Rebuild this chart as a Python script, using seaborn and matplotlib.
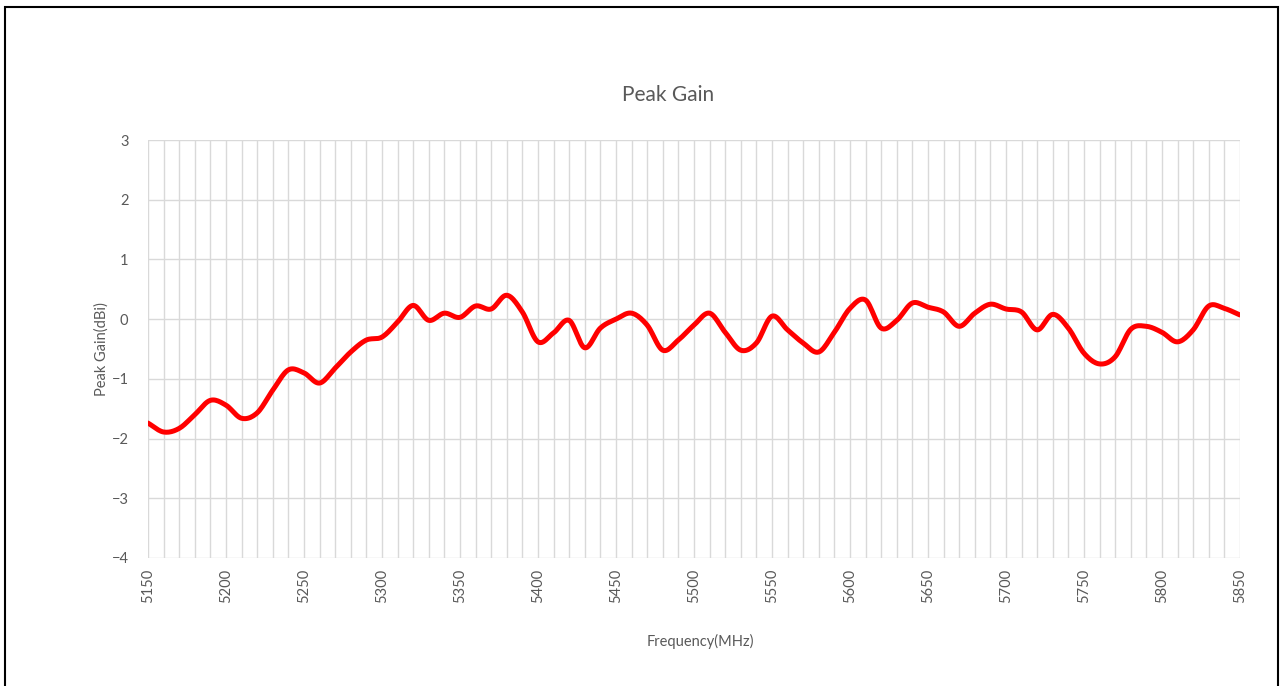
import numpy as np
import pandas as pd
import matplotlib
matplotlib.use("Agg")
import matplotlib.pyplot as plt
from matplotlib.patches import Rectangle
import seaborn as sns

# -------------------------------
# Data
# -------------------------------
freq_mhz = list(range(5150, 5851, 10))
peak_gain_dbi = [
    -1.74, -1.89, -1.83, -1.60, -1.36, -1.44, -1.66, -1.57, -1.19, -0.85,  # 5150-5240
    -0.90, -1.07, -0.82, -0.55, -0.35, -0.30, -0.05, 0.23, -0.02, 0.10,    # 5250-5340
    0.03, 0.22, 0.17, 0.40, 0.12, -0.38, -0.23, -0.02, -0.48, -0.15,       # 5350-5440
    0.00, 0.10, -0.10, -0.52, -0.35, -0.10, 0.10, -0.22, -0.52, -0.40,     # 5450-5540
    0.05, -0.18, -0.40, -0.55, -0.22, 0.18, 0.32, -0.15, -0.02, 0.27,      # 5550-5640
    0.20, 0.12, -0.12, 0.10, 0.25, 0.17, 0.12, -0.18, 0.08, -0.15,         # 5650-5740
    -0.57, -0.75, -0.63, -0.17, -0.12, -0.22, -0.38, -0.18, 0.22, 0.18,    # 5750-5840
    0.07,                                                                  # 5850
]
x_ticks = list(range(5150, 5851, 50))
y_ticks = list(range(-4, 4))

title = "Peak Gain"
x_label = "Frequency(MHz)"
y_label = "Peak Gain(dBi)"


# Excel-like smoothed line: Catmull-Rom through the read points
def smooth_line(x, y, steps=12):
    x = np.asarray(x, float)
    y = np.asarray(y, float)
    px = np.concatenate([[2 * x[0] - x[1]], x, [2 * x[-1] - x[-2]]])
    py = np.concatenate([[2 * y[0] - y[1]], y, [2 * y[-1] - y[-2]]])
    xs, ys = [], []
    t = np.linspace(0, 1, steps, endpoint=False)
    for i in range(1, len(px) - 2):
        for p, out in ((px, xs), (py, ys)):
            p0, p1, p2, p3 = p[i - 1], p[i], p[i + 1], p[i + 2]
            out.extend(0.5 * (2 * p1 + (-p0 + p2) * t
                              + (2 * p0 - 5 * p1 + 4 * p2 - p3) * t ** 2
                              + (-p0 + 3 * p1 - 3 * p2 + p3) * t ** 3))
    xs.append(x[-1])
    ys.append(y[-1])
    return pd.DataFrame({"freq": xs, "gain": ys})


df = smooth_line(freq_mhz, peak_gain_dbi)

# -------------------------------
# Plot
# -------------------------------
sns.set_style("white")
plt.rcParams["font.family"] = ["Lato", "DejaVu Sans"]

fig = plt.figure(figsize=(12.82, 6.86), dpi=100)
ax = fig.add_axes([0.1154, 0.1866, 0.8518, 0.6093])

sns.lineplot(data=df, x="freq", y="gain", color="#ff0000", linewidth=3.6,
             sort=False, estimator=None, ax=ax, zorder=3)

ax.set_xlim(5150, 5850)
ax.set_ylim(-4, 3)
ax.set_xticks(freq_mhz, minor=True)
ax.set_xticks(x_ticks)
ax.set_yticks(y_ticks)
ax.set_xticklabels([str(v) for v in x_ticks], rotation=90)
ax.grid(True, which="both", axis="x", color="#d9d9d9", linewidth=1)
ax.grid(True, which="major", axis="y", color="#d9d9d9", linewidth=1)
ax.tick_params(axis="both", which="both", length=0, labelsize=10.5,
               labelcolor="#595959")
ax.tick_params(axis="x", pad=8)
ax.tick_params(axis="y", pad=14)
for s in ax.spines.values():
    s.set_visible(False)

ax.set_xlabel(x_label, fontsize=10.5, color="#595959")
ax.xaxis.set_label_coords(0.5055, -0.181)
ax.set_ylabel(y_label, fontsize=10.5, color="#595959", labelpad=2)
fig.text(668 / 1282, 1 - 95 / 686, title, fontsize=15, color="#595959",
         ha="center", va="center")

# chart border
fig.patches.append(Rectangle((0.004, -0.01), 0.993, 1.0, transform=fig.transFigure,
                             fill=False, edgecolor="#000000", linewidth=1.5))

fig.savefig("out.png", dpi=100, facecolor="white")
